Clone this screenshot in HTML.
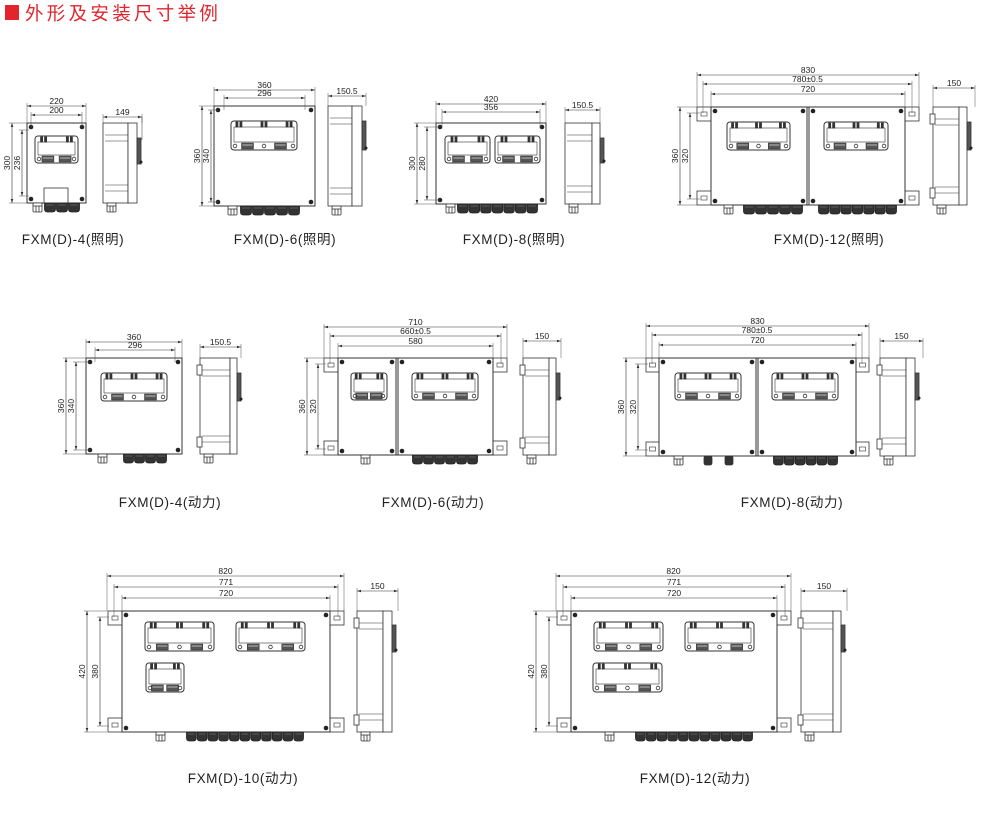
<!DOCTYPE html>
<html><head><meta charset="utf-8">
<style>
html,body{margin:0;padding:0;background:#fff;width:986px;height:820px;overflow:hidden}
svg{display:block}
text{font-family:"Liberation Sans","Noto Sans CJK SC",sans-serif;fill:#222}
</style></head><body>
<svg id="s" width="986" height="820" viewBox="0 0 986 820" xmlns="http://www.w3.org/2000/svg">
<rect x="5" y="5" width="14" height="15" fill="#e5232b"/>
<text x="25" y="20" font-size="18.5" style="fill:#e5232b;font-family:'Noto Sans CJK SC',sans-serif" letter-spacing="3.3">外形及安装尺寸举例</text>
<g id="g" fill="none" stroke="#333" stroke-width="0.8"></g>
</svg>
<script>
var g=document.getElementById('g'),S=document.getElementById('s'),h='';
function L(a,b,c,d,w,col){h+='<line x1="'+a+'" y1="'+b+'" x2="'+c+'" y2="'+d+'" stroke="'+(col||'#333')+'" stroke-width="'+(w||0.8)+'"/>';}
function R(x,y,w,ht,f,rx,sw){h+='<rect x="'+x+'" y="'+y+'" width="'+w+'" height="'+ht+'" fill="'+(f||'none')+'" rx="'+(rx||0)+'" stroke-width="'+(sw||0.8)+'"/>';}
function C(x,y,r,f){h+='<circle cx="'+x+'" cy="'+y+'" r="'+r+'" fill="'+(f||'#222')+'" stroke="none"/>';}
var T='';
function TX(x,y,s,fs,rot){T+='<text x="'+x+'" y="'+y+'" font-size="'+(fs||8.5)+'" text-anchor="middle"'+(rot?' transform="rotate(-90 '+x+' '+y+')"':'')+'>'+s+'</text>';}
function hd(x1,x2,y,lab,y0){L(x1,y,x2,y,0.6);L(x1,y-3,x1,y0,0.5,'#555');L(x2,y-3,x2,y0,0.5,'#555');
 h+='<path d="M'+x1+' '+y+'l4 -1.3v2.6zM'+x2+' '+y+'l-4 -1.3v2.6z" fill="#333" stroke="none"/>';TX((x1+x2)/2,y-2,lab);}
function vd(x,y1,y2,lab,x0){L(x,y1,x,y2,0.6);L(x-3,y1,x0,y1,0.5,'#555');L(x-3,y2,x0,y2,0.5,'#555');
 h+='<path d="M'+x+' '+y1+'l-1.3 4h2.6zM'+x+' '+y2+'l-1.3 -4h2.6z" fill="#333" stroke="none"/>';TX(x-2,(y1+y2)/2,lab,8.5,1);}
function frame(x1,y1,x2,y2,n){var w=x2-x1,ht=y2-y1;R(x1,y1,w,ht,'none',3,1);R(x1+3,y1+6,w-6,ht-14,'none',0,0.6);
 var k=n==2?[0.2,0.8]:[0.12,0.5,0.88];k.forEach(function(t){var cx=x1+w*t;R(cx-3,y1+1,2,5,'#333');R(cx+1,y1+1,2,5,'#333');});
 var bp=n==2?[0.3,0.7]:[0.25,0.75];bp.forEach(function(t){var cx=x1+w*t;R(cx-6,y2-7,12,6,'#555',0,0.5);L(cx-5,y2-5,cx+5,y2-5,0.6,'#fff');});
 h+='<circle cx="'+(x1+4)+'" cy="'+(y2-4)+'" r="1.8"/>';h+='<circle cx="'+(x2-4)+'" cy="'+(y2-4)+'" r="1.8"/>';
 if(n==3)h+='<circle cx="'+(x1+w/2)+'" cy="'+(y2-4)+'" r="1.8"/>';}
function gl(x,y){R(x,y,9,9,'#fff',1);L(x+3,y+3,x+3,y+9);L(x+6,y+3,x+6,y+9);L(x,y+3,x+9,y+3);}
function glr(x1,x2,y){var n=Math.round((x2-x1)/11);var w=(x2-x1)/n;for(var i=0;i<n;i++){h+='<path d="M'+(x1+i*w+0.5)+' '+y+'h'+(w-1)+'v6q0 3 -3 3h'+(-(w-7))+'q-3 0 -3 -3z" fill="#333" stroke="#222"/>';L(x1+i*w+2,y+2,x1+i*w+w-2,y+2,0.5,'#888');}}
function side(x1,x2,x3,y1,y2,ha,hb,ear){R(x1,y1,x2-x1,y2-y1,'#fff');R(x2,y1,x3-x2,y2-y1,'#fff');
 L(x1+2,y1+12,x2,y1+12,0.6);L(x1+2,y1+18,x2,y1+18,0.6);L(x1+2,y2-12,x2,y2-12,0.6);L(x1+2,y2-18,x2,y2-18,0.6);
 R(x3,ha,4,hb-ha,'#555');C(x3+4,hb-2,1.5);
 if(ear){R(x1-3,y1+7,5,10,'#fff');R(x1-3,y2-17,5,10,'#fff');}
 gl(x1+4,y2);}
function box(x1,y1,x2,y2,feet,div){if(feet){var fw=feet;R(x1-fw,y1,fw,14,'#fff');R(x2,y1,fw,14,'#fff');R(x1-fw,y2-14,fw,14,'#fff');R(x2,y2-14,fw,14,'#fff');
 [[x1-fw/2,y1+7],[x2+fw/2,y1+7],[x1-fw/2,y2-7],[x2+fw/2,y2-7]].forEach(function(p){R(p[0]-3,p[1]-2,6,4,'#fff',0,0.6);});}
 R(x1,y1,x2-x1,y2-y1,'none',0,1);
 var bs=[[x1+4,y1+4],[x2-4,y1+4],[x1+4,y2-4],[x2-4,y2-4]];
 if(div){L(div-1,y1,div-1,y2,1);L(div+1,y1,div+1,y2,1);bs.push([div-5,y1+4],[div+5,y1+4],[div-5,y2-4],[div+5,y2-4]);}
 bs.forEach(function(p){C(p[0],p[1],2.3);});}
function lab(x,y,s){T+='<text x="'+x+'" y="'+y+'" font-size="13.5" text-anchor="middle" letter-spacing="0.6">'+s+'</text>';}

box(27,123,86,203);R(44,188,24,15,'#fff');frame(35,136,78,163,2);
gl(33,203);glr(44,80,203);
hd(27,86,106,'220',123);hd(31,82,115,'200',127);vd(12,123,203,'300',27);vd(22,130,196,'236',29);
side(103,128,137,123,203,138,164,0);hd(103,142,117,'149',123);L(142,117,142,140,0.5);
lab(73,244,'FXM(D)-4(照明)');
box(214,106,315,206);frame(231,121,297,150,3);gl(228,206);glr(240,300,206);
hd(214,315,90,'360',106);hd(224,305,98,'296',110);vd(202,106,206,'360',214);vd(211,110,202,'340',218);
side(328,352,362,106,206,121,150,0);hd(328,366,96,'150.5',106);
lab(285,244,'FXM(D)-6(照明)');
box(436,123,546,204);frame(445,136,490,163,2);frame(495,136,540,163,2);gl(446,204);glr(457,538,204);
hd(436,546,104,'420',123);hd(442,540,112,'356',127);vd(417,123,204,'300',436);vd(427,127,200,'280',440);
side(565,592,600,123,204,138,163,0);hd(565,600,110,'150.5',123);
lab(514,244,'FXM(D)-8(照明)');
box(711,107,905,205,14,808);frame(727,122,790,150,3);frame(824,122,888,150,3);gl(724,205);glr(743,803,205);glr(818,897,205);
hd(697,919,75,'830',107);hd(703,912,84,'780±0.5',113);hd(711,905,94,'720',107);vd(680,107,205,'360',697);vd(690,113,199,'320',700);
side(933,959,967,107,205,122,150,1);hd(933,975,88,'150',107);
lab(829,244,'FXM(D)-12(照明)');
box(86,358,182,454);frame(101,373,167,401,3);gl(98,454);glr(123,167,454);
hd(86,182,342,'360',358);hd(95,175,350,'296',362);vd(66,358,454,'360',86);vd(76,362,450,'340',90);
side(200,230,237,358,454,373,401,1);hd(200,241,347,'150.5',358);
lab(170,507,'FXM(D)-4(动力)');
box(338,358,493,455,14,397);frame(351,373,387,400,2);frame(412,373,478,400,3);gl(361,455);glr(412,478,455);
hd(324,507,327,'710',358);hd(330,501,336,'660±0.5',364);hd(338,493,346,'580',358);vd(307,358,455,'360',324);vd(318,364,449,'320',326);
side(523,549,556,358,455,373,400,1);hd(523,561,341,'150',358);
lab(433,507,'FXM(D)-6(动力)');
box(659,358,856,456,13,757);frame(675,373,741,400,3);frame(772,373,838,400,3);gl(674,456);
h+='<rect x="704" y="456" width="8" height="9" rx="2" fill="#333"/><rect x="725" y="456" width="8" height="9" rx="2" fill="#333"/>';glr(773,838,456);
hd(646,869,326,'830',358);hd(652,862,335,'780±0.5',364);hd(659,856,345,'720',358);vd(626,358,456,'360',646);vd(638,364,450,'320',648);
side(880,906,915,358,456,373,400,1);hd(880,923,341,'150',358);
lab(792,507,'FXM(D)-8(动力)');
[[0,122,330,357,383,392,243,'FXM(D)-10(动力)'],[449,571,777,801,833,841,695,'FXM(D)-12(动力)']].forEach(function(d){
 var o=d[0],a=d[1],b=d[2];box(a,611,b,732,14);
 frame(a+23,622,a+92,651,3);frame(a+114,622,a+183,651,3);
 if(o)frame(a+22,663,a+91,692,3);else frame(a+24,663,a+62,692,2);
 gl(a+34,732);glr(a+64,a+182,732);
 hd(a-15,b+14,576,'820',611);hd(a-8,b+8,587,'771',617);hd(a,b,598,'720',611);vd(a-35,611,732,'420',a-15);vd(a-22,617,726,'380',a-13);
 side(d[3],d[4],d[5],611,732,625,652,1);hd(d[3],d[5]+6,591,'150',611);
 lab(d[6],783,d[7]);});
g.innerHTML=h;
var tg=document.createElementNS('http://www.w3.org/2000/svg','g');tg.innerHTML=T;S.appendChild(tg);
</script>
</body></html>
